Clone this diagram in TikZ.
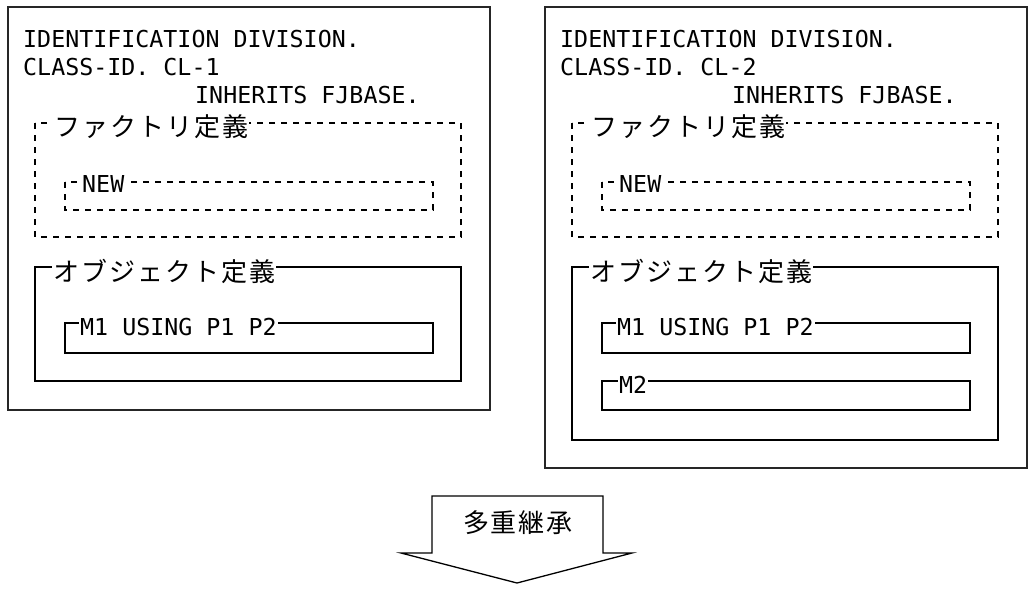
\documentclass[tikz,border=0pt]{standalone}
\usepackage{fontspec}
\setmonofont{DejaVu Sans Mono}
\newfontfamily\jpfont[LetterSpace=7.7]{Noto Sans CJK JP}
\usetikzlibrary{positioning}

\begin{document}
\begin{tikzpicture}[x=1pt, y=-1pt,
    frame/.style={draw=black!85, line width=1.6pt},
    solidbox/.style={draw, line width=1.3pt},
    dashbox/.style={draw, line width=1.3pt, dash pattern=on 6pt off 6pt},
    code/.style={font=\fontsize{23.3}{28}\selectfont\ttfamily,
                 inner sep=0pt, anchor=base west},
    tag/.style={code, fill=white, inner xsep=1pt, inner ysep=2pt},
    jlabel/.style={font=\fontsize{26}{28}\selectfont\jpfont, fill=white,
                   inner xsep=1pt, inner ysep=2pt, anchor=west}]
  \useasboundingbox (0,0) rectangle (1028,592);
  \foreach \cl/\outb/\objb [count=\i from 0] in {1/410/381, 2/468/440}{%
    \begin{scope}[xshift=\i*537pt]
      \draw[frame] (8,7) rectangle (490,\outb);
      \draw[dashbox] (35,123) rectangle (461,237);
      \draw[dashbox] (65,182) rectangle (433,210);
      \draw[solidbox] (35,267) rectangle (461,\objb);
      \draw[solidbox] (65,323) rectangle (433,353);
      \node[code] (id\i) at (23,47) {IDENTIFICATION DIVISION.};
      \node[code] (cls\i) at (23,75) {CLASS-ID. CL-\cl};
      \node[code] (inh\i) at (195,103) {INHERITS FJBASE.};
      \node[jlabel] (fact\i) at (53,127) {ファクトリ定義};
      \node[tag] (new\i) at (81,192) {NEW~};
      \node[jlabel] (obj\i) at (52,271) {オブジェクト定義};
      \node[tag] (mone\i) at (79,335) {M1 USING P1 P2};
    \end{scope}}
  % M2 only in CL-2
  \draw[solidbox] (602,381) rectangle (970,410);
  \node[tag] (mtwo) at (618,393) {M2};
  % inheritance arrow
  \draw[solidbox, fill=white] (432,496) -- (603,496) -- (603,553)
    -- (632,553) -- (517,583) -- (401,553) -- (432,553) -- cycle;
  \node[font=\fontsize{26}{28}\selectfont\jpfont] (multi) at (518,523) {多重継承};
\end{tikzpicture}
\end{document}
